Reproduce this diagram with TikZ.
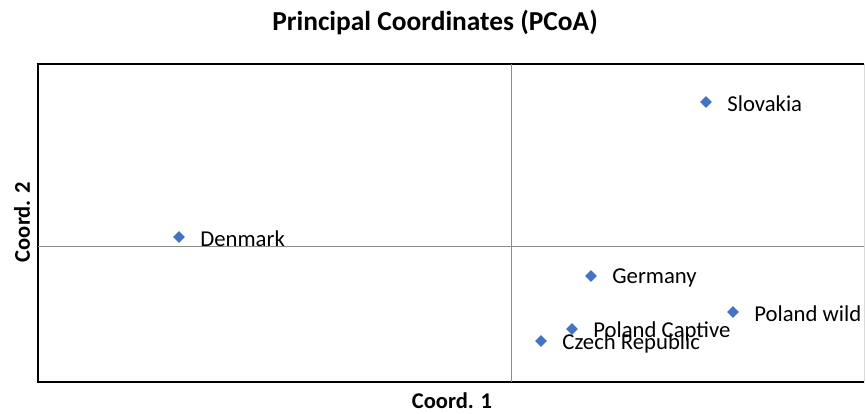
\documentclass[tikz,border=0pt]{standalone}
\usepackage{fontspec}
\setmainfont{Carlito}
\usetikzlibrary{shapes.geometric}
\definecolor{pcoablue}{RGB}{68,114,196}
\tikzset{every node/.style={inner sep=0pt},
  pt/.style={diamond, fill=pcoablue, minimum size=12pt, inner sep=0pt},
  lbl/.style={anchor=west, font=\fontsize{22.7}{26}\selectfont},
  axtitle/.style={font=\bfseries\fontsize{22.5}{26}\selectfont},
  axis/.style={draw=gray!90, line width=1pt}}

\begin{document}
\begin{tikzpicture}[x=1pt,y=1pt]
   \useasboundingbox (0,0) rectangle (866,414);
   % plot area
   \coordinate (bl) at (38,32);
   \coordinate (tl) at (38,350);
   \coordinate (br) at (864,32);
   \coordinate (tr) at (864,350);
   \draw[gray!30, line width=0.8pt] (br) -- (tr);
   \draw[black, line width=1.5pt] (tr) -- (tl) -- (bl) -- (br);
   \coordinate (xl) at (38,167);  \coordinate (xr) at (864,167);
   \coordinate (yb) at (511,32);  \coordinate (yt) at (511,350);
   \draw[axis] (xl) -- (xr);
   \draw[axis] (yb) -- (yt);
   % points
   \node[pt] (slk) at (706,312) {};
   \node[pt] (den) at (179,177) {};
   \node[pt] (ger) at (591,138) {};
   \node[pt] (plw) at (733,102) {};
   \node[pt] (plc) at (572, 85) {};
   \node[pt] (cze) at (541, 73) {};
   \node[lbl] (slkl) at ([xshift=15pt,yshift=-2pt]slk.east) {Slovakia};
   \node[lbl] (denl) at ([xshift=15pt,yshift=-2pt]den.east) {Denmark};
   \node[lbl] (gerl) at ([xshift=15pt,yshift=-2pt]ger.east) {Germany};
   \node[lbl] (plwl) at ([xshift=15pt,yshift=-2pt]plw.east) {Poland wild};
   \node[lbl] (plcl) at ([xshift=15pt,yshift=-2pt]plc.east) {Poland Captive};
   \node[lbl] (czel) at ([xshift=15pt,yshift=-2pt]cze.east) {Czech Republic};
   % titles
   \node[font=\bfseries\fontsize{27.4}{31}\selectfont] (title) at (435,392) {Principal Coordinates (PCoA)};
   \node[axtitle] (xtitle) at (452,13) {Coord. 1};
   \node[axtitle, rotate=90] (ytitle) at (22,192) {Coord. 2};
\end{tikzpicture}
\end{document}
